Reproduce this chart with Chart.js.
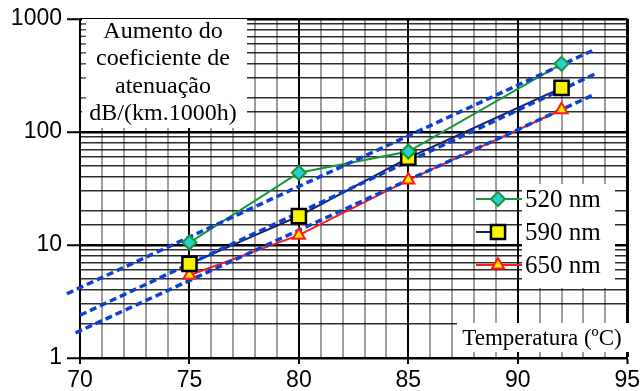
<!DOCTYPE html>
<html>
<head>
<meta charset="utf-8">
<script src="https://cdn.jsdelivr.net/npm/chart.js@4.4.0/dist/chart.umd.min.js"></script>
<style>
  html, body { margin: 0; padding: 0; background: #fff; }
  canvas { display: block; }
</style>
</head>
<body>
<canvas id="atenuacao" width="643" height="391"></canvas>
<script>
// medidas por comprimento de onda
const temperaturas = [75, 80, 85, 92];
const nm520 = [10.5, 43.5, 67, 400];
const nm590 = [6.8, 18, 59, 245];
const nm650 = [5.4, 12.2, 37.5, 157];

// retas de ajuste (extremos)
const ajusteT520 = [69.4, 93.4];
const ajuste520 = [3.7, 522];
const ajusteT590 = [70, 93.6];
const ajuste590 = [2.39, 330];
const ajusteT650 = [69.8, 93.4];
const ajuste650 = [1.67, 210];

const legendas = ['520 nm', '590 nm', '650 nm'];
const tituloY = ['Aumento do', 'coeficiente de', 'atenuação', 'dB/(km.1000h)'];
const tituloX = 'Temperatura (ºC)';
const decadas = [1, 10, 100, 1000];

const pontos = (xs, ys) => xs.map((x, i) => ({ x: x, y: ys[i] }));

const estilos = [
  { linha: '#17963a', estilo: 'rectRot', raio: 7, fundo: '#2ccfcf', borda: '#17963a', bw: 2 },
  { linha: '#1c1c5a', estilo: 'rect', raio: 10, fundo: '#f5f500', borda: '#000000', bw: 2.5 },
  { linha: '#ff1a1a', estilo: 'triangle', raio: 7, fundo: '#ffe400', borda: '#ff1a1a', bw: 2 }
];
const series = [nm520, nm590, nm650];
const ajustes = [[ajusteT520, ajuste520], [ajusteT590, ajuste590], [ajusteT650, ajuste650]];

const datasets = [];
series.forEach((s, i) => {
  datasets.push({
    label: legendas[i], data: pontos(temperaturas, s), order: 3,
    borderColor: estilos[i].linha, borderWidth: 2, pointRadius: 0, tension: 0
  });
});
ajustes.forEach(([xs, ys]) => {
  datasets.push({
    data: pontos(xs, ys), order: 2, clip: false,
    borderColor: '#0c40d2', borderWidth: 3.5, borderDash: [7, 4], pointRadius: 0
  });
});
series.forEach((s, i) => {
  const e = estilos[i];
  datasets.push({
    data: pontos(temperaturas, s), order: 1, showLine: false,
    pointStyle: e.estilo, pointRadius: e.raio, pointBackgroundColor: e.fundo,
    pointBorderColor: e.borda, pointBorderWidth: e.bw
  });
});

function marcador(ctx, e, x, y) {
  ctx.save();
  ctx.fillStyle = e.fundo;
  ctx.strokeStyle = e.borda;
  ctx.lineWidth = e.bw;
  ctx.beginPath();
  const r = e.raio;
  if (e.estilo === 'rectRot') {
    ctx.moveTo(x, y - r); ctx.lineTo(x + r, y); ctx.lineTo(x, y + r); ctx.lineTo(x - r, y);
  } else if (e.estilo === 'rect') {
    const s = Math.SQRT1_2 * r;
    ctx.rect(x - s, y - s, 2 * s, 2 * s);
  } else {
    const w = r * Math.sqrt(3) / 2;
    ctx.moveTo(x, y - r); ctx.lineTo(x + w, y + r / 2); ctx.lineTo(x - w, y + r / 2);
  }
  ctx.closePath();
  ctx.fill();
  ctx.stroke();
  ctx.restore();
}

const caixas = {
  id: 'caixas',
  afterDatasetsDraw(chart) {
    const { ctx } = chart;
    const ys = chart.scales.y;
    ctx.save();

    // título do eixo y
    ctx.fillStyle = '#fff';
    ctx.fillRect(82, 19, 165, 109);
    ctx.strokeStyle = '#555';
    ctx.lineWidth = 1.5;
    for (let v = 200; v < 1000; v += 100) {
      const py = ys.getPixelForValue(v);
      ctx.beginPath(); ctx.moveTo(81, py); ctx.lineTo(86, py); ctx.stroke();
    }
    ctx.fillStyle = '#000';
    ctx.font = '24px "Liberation Serif"';
    ctx.textAlign = 'center';
    ctx.textBaseline = 'alphabetic';
    tituloY.forEach((t, i) => ctx.fillText(t, 163, 38 + i * 27.3));

    // legenda
    ctx.fillStyle = '#fff';
    ctx.fillRect(522, 184, 93, 104);
    const ly = [199, 232, 265];
    estilos.forEach((e, i) => {
      ctx.strokeStyle = e.linha;
      ctx.lineWidth = 2;
      ctx.beginPath();
      ctx.moveTo(476, ly[i]);
      ctx.lineTo(i === 1 ? 493 : 522, ly[i]);
      ctx.stroke();
      marcador(ctx, e, 498, ly[i]);
    });
    ctx.fillStyle = '#000';
    ctx.font = '25px "Liberation Serif"';
    ctx.textAlign = 'left';
    ctx.textBaseline = 'middle';
    legendas.forEach((t, i) => ctx.fillText(t, 525, ly[i] + 1));

    // título do eixo x
    ctx.fillStyle = '#fff';
    ctx.fillRect(457, 323, 173, 29);
    ctx.fillStyle = '#000';
    ctx.font = '23px "Liberation Serif"';
    ctx.textAlign = 'center';
    ctx.fillText(tituloX, 542, 339);
    ctx.restore();
  }
};

const ehDecada = v => Math.abs(Math.log10(v) - Math.round(Math.log10(v))) < 1e-9;

new Chart(document.getElementById('atenuacao'), {
  type: 'line',
  data: { datasets: datasets },
  plugins: [caixas],
  options: {
    responsive: false,
    animation: false,
    devicePixelRatio: 1,
    layout: { padding: { top: 17, right: 11, left: 0, bottom: 0 } },
    plugins: { legend: { display: false }, tooltip: { enabled: false } },
    scales: {
      x: {
        type: 'linear', min: 70, max: 95,
        afterFit(s) { s.height = 33; },
        border: { color: '#000', width: 2 },
        grid: {
          color: c => c.tick.value % 5 === 0 ? '#000' : 'rgba(0,0,0,0.38)',
          lineWidth: c => c.tick.value === 95 ? 3 : 2,
          tickLength: 6,
          tickWidth: 2,
          tickColor: c => c.tick.value % 5 === 0 ? '#000' : 'rgba(0,0,0,0)'
        },
        ticks: {
          stepSize: 1, autoSkip: false, maxRotation: 0, padding: 3, color: '#000',
          font: { family: 'Liberation Sans', size: 23 },
          callback: v => v % 5 === 0 ? String(v) : ''
        }
      },
      y: {
        type: 'logarithmic', min: 1, max: 1000,
        afterFit(s) { s.width = 80; },
        border: { color: '#000', width: 2 },
        grid: {
          color: c => ehDecada(c.tick.value) ? '#000' : 'rgba(0,0,0,0.82)',
          lineWidth: c => ehDecada(c.tick.value) ? 2.5 : 1.5,
          tickLength: 13,
          tickWidth: 2,
          tickColor: c => ehDecada(c.tick.value) ? '#000' : 'rgba(0,0,0,0)'
        },
        ticks: {
          autoSkip: false, padding: 5, color: '#000',
          font: { family: 'Liberation Sans', size: 23 },
          callback: v => decadas.includes(v) ? String(v) : ''
        }
      }
    }
  }
});
</script>
</body>
</html>
